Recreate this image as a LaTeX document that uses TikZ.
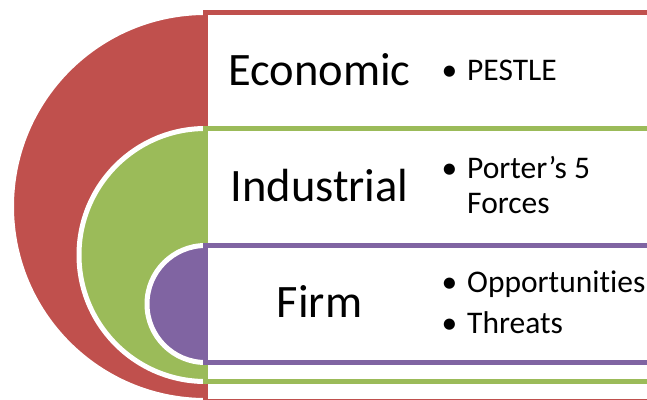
\documentclass[tikz,border=0pt]{standalone}
\usepackage{fontspec}
\setmainfont[RawFeature=-liga]{Carlito}
\definecolor{cred}{HTML}{C0504D}
\definecolor{cgreen}{HTML}{9BBB59}
\definecolor{cpurple}{HTML}{8064A2}
\begin{document}
\begin{tikzpicture}[x=1pt,y=-1pt,
  band/.style={fill=white, draw=#1, line width=4.5pt},
  rim/.style={draw=white, line width=5pt},
  big/.style={font=\fontsize{46.5}{56}\selectfont, anchor=base, inner sep=0pt},
  item/.style={font=\fontsize{31.5}{34}\selectfont, anchor=base west, inner sep=0pt},
  bul/.style={font=\fontsize{31.5}{34}\selectfont, anchor=base, inner sep=0pt}]
\useasboundingbox (0,0) rectangle (647,399);
\clip (0,0) rectangle (647,399);
% red level
\fill[cred] (205.5,12.5) arc[start angle=270, end angle=90, radius=194] -- cycle;
\draw[rim] (205.5,12.5) arc[start angle=270, end angle=90, radius=194];
\draw[band=cred] (205.5,12.5) rectangle (670,401.5);
% green level
\fill[cgreen] (205.5,128.5) arc[start angle=270, end angle=90, radius=126.5] -- cycle;
\draw[rim] (205.5,128.5) arc[start angle=270, end angle=90, radius=126.5];
\draw[band=cgreen] (205.5,128.5) rectangle (670,381.5);
% purple level
\fill[cpurple] (205.5,245.5) arc[start angle=270, end angle=90, radius=58.5] -- cycle;
\draw[rim] (205.5,245.5) arc[start angle=270, end angle=90, radius=58.5];
\draw[band=cpurple] (205.5,245.5) rectangle (670,362.5);
% labels
\node[big] (econ) at (319.5,85) {Economic};
\node[big] (ind) at (319.5,201) {Industrial};
\node[big] (firm) at (319.5,317) {Firm};
% bullet items
\node[bul] (b1) at (449.5,80) {•};
\node[item] (pestle) at (467,80) {PESTLE};
\node[bul] (b2) at (449.5,178) {•};
\node[item] (porter) at (467,178) {Porter’s 5};
\node[item] (forces) at (467,213) {Forces};
\node[bul] (b3) at (449.5,292) {•};
\node[item] (opp) at (467,292) {Opportunities};
\node[bul] (b4) at (449.5,333) {•};
\node[item] (thr) at (467,333) {Threats};
\end{tikzpicture}
\end{document}
